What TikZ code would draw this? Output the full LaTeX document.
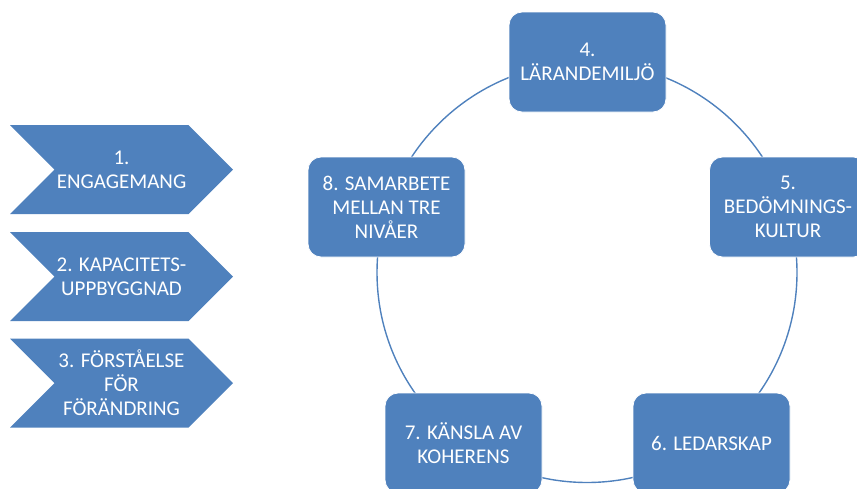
\documentclass[tikz,border=0pt]{standalone}
\usepackage{fontspec}
\setmainfont{Carlito}
\usetikzlibrary{shapes.symbols}
\definecolor{accblue}{HTML}{4F81BD}
\begin{document}
\begin{tikzpicture}[x=1pt,y=-1pt,
  txt/.style={text=white,font=\fontsize{21}{24}\selectfont,align=center},
  cbox/.style={txt,fill=accblue,draw=white,line width=0.8pt,rounded corners=13pt,
    minimum width=157pt,minimum height=100pt,inner sep=0pt},
  chev/.style={txt,fill=accblue,shape=signal,signal from=west,signal to=east,
    signal pointer angle=90,minimum width=223pt,minimum height=89pt,inner sep=0pt},
  ring/.style={draw=accblue,line width=1.4pt}]
\useasboundingbox (0,0) rectangle (857,488);
\coordinate (ctr) at (587,272.5);
\draw[ring] (ctr) circle[radius=210pt];
\node[chev] (c1) at (121.5,169.5) {1.\\ENGAGEMANG};
\node[chev] (c2) at (121.5,276.5) {2. KAPACITETS-\\UPPBYGGNAD};
\node[chev] (c3) at (121.5,383) {3. FÖRSTÅELSE\\FÖR\\FÖRÄNDRING};
\node[cbox] (b4) at (587.5,62) {4.\\LÄRANDEMILJÖ};
\node[cbox] (b5) at (788,207) {5.\\BEDÖMNINGS-\\KULTUR};
\node[cbox] (b6) at (711.5,443) {6. LEDARSKAP};
\node[cbox] (b7) at (463.5,443) {7. KÄNSLA AV\\KOHERENS};
\node[cbox] (b8) at (386.5,207) {8. SAMARBETE\\MELLAN TRE\\NIVÅER};
\end{tikzpicture}
\end{document}
